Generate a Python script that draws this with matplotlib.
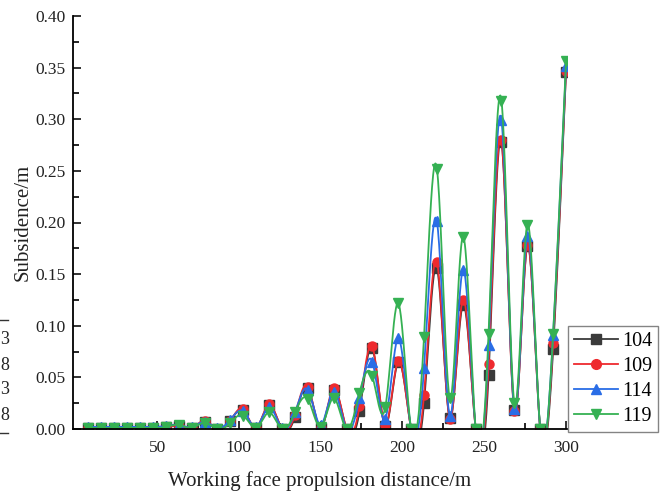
import numpy as np
import matplotlib
matplotlib.use("Agg")
import matplotlib.pyplot as plt
from matplotlib.lines import Line2D

plt.rcParams['font.family'] = ['Liberation Serif', 'DejaVu Serif']

# ---------------- data ----------------
distance = [7.9, 15.8, 23.7, 31.6, 39.5, 47.4, 55.3, 63.2, 71.1, 79.0,
            86.9, 94.8, 102.7, 110.6, 118.5, 126.4, 134.3, 142.2, 150.1, 158.0,
            165.9, 173.8, 181.7, 189.6, 197.5, 205.4, 213.3, 221.2, 229.1, 237.0,
            244.9, 252.8, 260.7, 268.6, 276.5, 284.4, 292.3, 300.2]

s104 = [0.001, 0.001, 0.001, 0.001, 0.001, 0.001, 0.002, 0.003, 0.001, 0.007,
        0.000, 0.008, 0.018, 0.001, 0.023, 0.000, 0.012, 0.040, 0.001, 0.038,
        0.000, 0.017, 0.078, 0.003, 0.065, 0.000, 0.025, 0.156, 0.011, 0.120,
        0.000, 0.052, 0.278, 0.018, 0.177, 0.000, 0.077, 0.346]
s109 = [0.001, 0.001, 0.001, 0.001, 0.001, 0.001, 0.002, 0.003, 0.001, 0.008,
        0.000, 0.008, 0.019, 0.001, 0.024, 0.000, 0.014, 0.041, 0.001, 0.040,
        0.000, 0.022, 0.080, 0.004, 0.066, 0.000, 0.033, 0.162, 0.010, 0.125,
        0.000, 0.063, 0.280, 0.017, 0.178, 0.000, 0.083, 0.347]
s114 = [0.002, 0.002, 0.002, 0.002, 0.002, 0.002, 0.003, 0.004, 0.002, 0.007,
        0.001, 0.009, 0.017, 0.002, 0.021, 0.001, 0.016, 0.038, 0.004, 0.036,
        0.000, 0.030, 0.065, 0.010, 0.088, 0.000, 0.059, 0.201, 0.013, 0.154,
        0.000, 0.081, 0.299, 0.019, 0.187, 0.000, 0.091, 0.352]
s119 = [0.001, 0.001, 0.001, 0.001, 0.001, 0.001, 0.002, 0.004, 0.001, 0.006,
        0.000, 0.006, 0.013, 0.001, 0.016, 0.000, 0.016, 0.029, 0.002, 0.030,
        0.000, 0.035, 0.051, 0.021, 0.122, 0.000, 0.089, 0.252, 0.030, 0.186,
        0.000, 0.092, 0.318, 0.025, 0.198, 0.000, 0.092, 0.356]

labels = ['104', '109', '114', '119']
colors = ['#3a3a3a', '#ee2a2e', '#2a6de6', '#35b153']
markers = ['s', 'o', '^', 'v']
series = [s104, s109, s114, s119]

x_ticks = [50, 100, 150, 200, 250, 300]
y_ticks = [0.00, 0.05, 0.10, 0.15, 0.20, 0.25, 0.30, 0.35, 0.40]


def natural_spline(x, y, per=24):
    """Smooth 'spline' connection line through the data points."""
    x = np.asarray(x, float)
    y = np.asarray(y, float)
    n = len(x)
    h = np.diff(x)
    A = np.zeros((n, n))
    b = np.zeros(n)
    A[0, 0] = 1.0
    A[-1, -1] = 1.0
    for i in range(1, n - 1):
        A[i, i - 1] = h[i - 1]
        A[i, i] = 2 * (h[i - 1] + h[i])
        A[i, i + 1] = h[i]
        b[i] = 6 * ((y[i + 1] - y[i]) / h[i] - (y[i] - y[i - 1]) / h[i - 1])
    M = np.linalg.solve(A, b)
    xs, ys = [], []
    for i in range(n - 1):
        t = np.linspace(x[i], x[i + 1], per, endpoint=False)
        a = x[i + 1] - t
        c = t - x[i]
        val = (M[i] * a ** 3 + M[i + 1] * c ** 3) / (6 * h[i]) \
            + (y[i] / h[i] - M[i] * h[i] / 6) * a \
            + (y[i + 1] / h[i] - M[i + 1] * h[i] / 6) * c
        xs.append(t)
        ys.append(val)
    xs.append([x[-1]])
    ys.append([y[-1]])
    return np.concatenate(xs), np.concatenate(ys)


fig = plt.figure(figsize=(6.64, 4.97), dpi=100)
ax = fig.add_axes([72.7 / 664, 1 - 429 / 497, (567 - 72.7) / 664, (429 - 16) / 497])

handles = []
for vals, lab, col, mk in zip(series, labels, colors, markers):
    sx, sy = natural_spline(distance, vals)
    ax.plot(sx, sy, color=col, lw=1.3)
    ax.plot(distance, vals, linestyle='none', marker=mk, color=col,
            markersize=6.5)
    handles.append(Line2D([], [], color=col, lw=1.3, marker=mk, markersize=7,
                          label=lab))

ax.set_xlim(-1.7, 300.8)
ax.set_ylim(0, 0.40)
ax.set_xticks(x_ticks)
ax.set_xticks([25, 75, 125, 175, 225, 275], minor=True)
ax.set_yticks(y_ticks)
ax.set_yticks(np.arange(0.025, 0.40, 0.05), minor=True)
ax.set_yticklabels([f"{v:.2f}" for v in y_ticks])

for side in ['top', 'right']:
    ax.spines[side].set_visible(False)
for side in ['left', 'bottom']:
    ax.spines[side].set_linewidth(1.3)

ax.tick_params(which='major', direction='in', length=6, width=1.3,
               labelsize=12.5, pad=5, colors='#222222')
ax.tick_params(which='minor', direction='in', length=4, width=1.2)
ax.tick_params(axis='x', pad=8)

ax.set_xlabel('Working face propulsion distance/m', fontsize=15,
              labelpad=11, color='#222222')
ax.set_ylabel('Subsidence/m', fontsize=15, labelpad=2, color='#222222')

leg = fig.legend(handles=handles, loc='lower left',
                 bbox_to_anchor=(567.7 / 664, 1 - 431.7 / 497),
                 bbox_transform=fig.transFigure, borderaxespad=0,
                 fontsize=14.5, frameon=True, fancybox=False,
                 handlelength=2.2, handletextpad=0.2, labelspacing=0.28,
                 borderpad=0.3)
leg.get_frame().set_edgecolor('#666666')
leg.get_frame().set_linewidth(1.0)

# partial text cut at the left edge of the original picture
for ypx, t in zip([339, 365, 389, 416], ['3', '8', '3', '8']):
    fig.text(9 / 664, 1 - ypx / 497, t, ha='right', va='center',
             fontsize=13, color='#222222')
for ypx in [320, 432.5]:
    fig.add_artist(Line2D([0, 8 / 664], [1 - ypx / 497, 1 - ypx / 497],
                          transform=fig.transFigure, color='#333333', lw=1.0))

fig.savefig('out.png', dpi=100)
